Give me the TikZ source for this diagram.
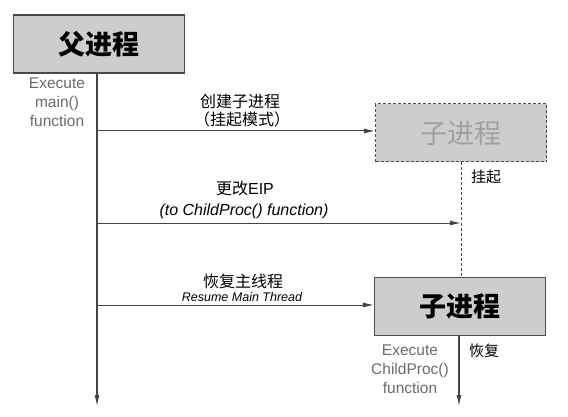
\documentclass[tikz,border=0pt]{standalone}
\usepackage{fontspec}
\setmainfont{Liberation Sans}
\newfontfamily\cjk{Noto Sans CJK SC}
\usetikzlibrary{arrows.meta}
\definecolor{boxfill}{HTML}{CDCDCD}
\definecolor{boxline}{HTML}{4A4A4A}
\definecolor{lifeline}{HTML}{444444}
\definecolor{note}{HTML}{6A6A6A}
\definecolor{ghost}{HTML}{A0A0A0}
\begin{document}
\begin{tikzpicture}[x=1pt,y=-1pt,
  procbox/.style={draw=boxline, fill=boxfill, line width=1.2pt, minimum width=171pt,
    minimum height=58pt, inner sep=0pt, font=\cjk\fontsize{27}{29}\selectfont},
  waitbox/.style={procbox, densely dashed, line width=1pt, text=ghost},
  life/.style={draw=lifeline, line width=1.1pt},
  msg/.style={draw=lifeline, line width=1pt, -{Latex[length=11pt,width=5pt]}},
  notetext/.style={text=note, font=\fontsize{15.5}{19}\selectfont, align=center, inner sep=0pt},
  label/.style={font=\cjk\fontsize{16}{18}\selectfont, inner sep=0pt},
  ilabel/.style={font=\itshape\fontsize{16}{18}\selectfont, inner sep=0pt}]
\useasboundingbox (0,0) rectangle (568,417);

% processes
\node[procbox, font=\cjk\bfseries\fontsize{27}{29}\selectfont] (parent) at (99,44) {父进程};
\node[waitbox] (child) at (461,133) {子进程};
\node[procbox, font=\cjk\bfseries\fontsize{27}{29}\selectfont] (childrun) at (460,306.5) {子进程};

% lifeline ends and message targets
\coordinate (pend) at (97,406);
\coordinate (cend) at (459,406);
\coordinate (m1) at (97,131);
\coordinate (m2) at (97,223);
\coordinate (m3) at (97,305);
\coordinate (eip) at (461,223);

% lifelines
\draw[life, -{Latex[length=11pt,width=5pt]}] (parent.south -| pend) -- (pend);
\draw[draw=lifeline, line width=0.9pt, densely dashed] (child.south -| eip) -- (childrun.north -| eip);
\draw[life, -{Latex[length=11pt,width=5pt]}] (childrun.south -| cend) -- (cend);

% messages
\draw[msg] (m1) -- (m1 -| child.west);
\draw[msg] (m2) -- (eip);
\draw[msg] (m3) -- (m3 -| childrun.west);

% labels
\node[notetext] (mainnote) at (57,102) {Execute\\main()\\function};
\node[label, anchor=west] (l1a) at (200,101) {创建子进程};
\node[label, anchor=west] (l1b) at (194,119) {（挂起模式）};
\node[label] (l2a) at (245,188) {更改{\fontspec{Liberation Sans}EIP}};
\node[ilabel] (l2b) at (244,211) {(to ChildProc() function)};
\node[label] (l3a) at (243,281) {恢复主线程};
\node[font=\itshape\fontsize{12.5}{14}\selectfont, inner sep=0pt] (l3b) at (242,297) {Resume Main Thread};
\node[label, font=\cjk\fontsize{15}{17}\selectfont] (susp) at (486,177) {挂起};
\node[label, font=\cjk\fontsize{15}{17}\selectfont] (resume) at (484,351) {恢复};
\node[notetext] (childnote) at (410,369) {Execute\\ChildProc()\\function};
\end{tikzpicture}
\end{document}
